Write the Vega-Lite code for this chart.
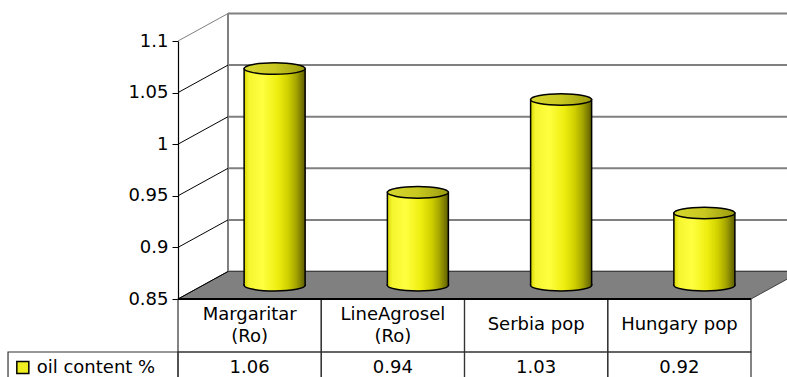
{
  "$schema": "https://vega.github.io/schema/vega-lite/v6.json",
  "width": 573,
  "height": 258,
  "autosize": {"type": "none"},
  "padding": {"left": 178, "top": 41, "right": 36, "bottom": 78},
  "background": "#ffffff",
  "config": {
    "view": {"stroke": null},
    "scale": {"bandPaddingInner": 0, "bandPaddingOuter": 0},
    "font": "DejaVu Sans"
  },
  "datasets": {
    "oil": [
      {"cat": "Margaritar (Ro)", "value": 1.06},
      {"cat": "LineAgrosel (Ro)", "value": 0.94},
      {"cat": "Serbia pop", "value": 1.03},
      {"cat": "Hungary pop", "value": 0.92}
    ],
    "ticks": [{"t": 0.85}, {"t": 0.9}, {"t": 0.95}, {"t": 1}, {"t": 1.05}, {"t": 1.1}],
    "legend": [{"series": "oil content %"}]
  },
  "layer": [
    {
      "data": {"name": "ticks"},
      "mark": {"type": "rule", "color": "#808080", "strokeWidth": 2, "xOffset": 50, "x2Offset": 50, "yOffset": -27.5},
      "encoding": {
        "y": {"field": "t", "type": "quantitative", "scale": {"domain": [0.85, 1.1], "zero": false, "nice": false},
          "axis": {"values": [0.85, 0.9, 0.95, 1, 1.05, 1.1], "format": "~g", "title": null, "grid": false, "domainColor": "#000000", "domainWidth": 1.2, "tickColor": "#000000", "tickSize": 6, "labelFont": "DejaVu Sans", "labelFontSize": 18, "labelColor": "#000000", "labelPadding": 4}},
        "x": {"datum": "Margaritar (Ro)", "bandPosition": 0, "scale": {"domain": ["Margaritar (Ro)", "LineAgrosel (Ro)", "Serbia pop", "Hungary pop"]},
          "axis": {"orient": "bottom", "title": null, "domain": false, "ticks": false, "labelAngle": 0, "labelPadding": {"condition": {"test": "indexof(datum.label, ' (') > 0", "value": 15}, "value": 25}, "labelBaseline": "middle", "labelFont": "DejaVu Sans", "labelFontSize": 18, "labelColor": "#000000", "labelLineHeight": 22, "labelOverlap": false,
            "labelExpr": "indexof(datum.label, ' (') > 0 ? [slice(datum.label, 0, indexof(datum.label, ' (')), slice(datum.label, indexof(datum.label, ' (') + 1)] : datum.label"}},
        "x2": {"datum": "Hungary pop", "bandPosition": 1}
      }
    },
    {
      "data": {"name": "legend"},
      "mark": {"type": "rule", "color": "#808080", "strokeWidth": 2, "xOffset": 50, "yOffset": -27.5, "y2Offset": -27.5},
      "encoding": {
        "x": {"datum": "Margaritar (Ro)", "bandPosition": 0, "scale": {"domain": ["Margaritar (Ro)", "LineAgrosel (Ro)", "Serbia pop", "Hungary pop"]},
          "axis": {"orient": "bottom", "title": null, "domain": false, "ticks": false, "labelAngle": 0, "labelPadding": {"condition": {"test": "indexof(datum.label, ' (') > 0", "value": 15}, "value": 25}, "labelBaseline": "middle", "labelFont": "DejaVu Sans", "labelFontSize": 18, "labelColor": "#000000", "labelLineHeight": 22, "labelOverlap": false,
            "labelExpr": "indexof(datum.label, ' (') > 0 ? [slice(datum.label, 0, indexof(datum.label, ' (')), slice(datum.label, indexof(datum.label, ' (') + 1)] : datum.label"}},
        "y": {"datum": 1.1, "type": "quantitative",
          "axis": {"values": [0.85, 0.9, 0.95, 1, 1.05, 1.1], "format": "~g", "title": null, "grid": false, "domainColor": "#000000", "domainWidth": 1.2, "tickColor": "#000000", "tickSize": 6, "labelFont": "DejaVu Sans", "labelFontSize": 18, "labelColor": "#000000", "labelPadding": 4}},
        "y2": {"datum": 0.85}
      }
    },
    {
      "data": {"name": "legend"},
      "mark": {"type": "point", "shape": "M-286.5,0L286.5,0L336.5,-27.5L-236.5,-27.5Z", "size": 4, "filled": true, "fill": "#808080", "stroke": "#404040", "strokeWidth": 1, "opacity": 1},
      "encoding": {
        "x": {"datum": "LineAgrosel (Ro)", "bandPosition": 1, "scale": {"domain": ["Margaritar (Ro)", "LineAgrosel (Ro)", "Serbia pop", "Hungary pop"]},
          "axis": {"orient": "bottom", "title": null, "domain": false, "ticks": false, "labelAngle": 0, "labelPadding": {"condition": {"test": "indexof(datum.label, ' (') > 0", "value": 15}, "value": 25}, "labelBaseline": "middle", "labelFont": "DejaVu Sans", "labelFontSize": 18, "labelColor": "#000000", "labelLineHeight": 22, "labelOverlap": false,
            "labelExpr": "indexof(datum.label, ' (') > 0 ? [slice(datum.label, 0, indexof(datum.label, ' (')), slice(datum.label, indexof(datum.label, ' (') + 1)] : datum.label"}},
        "y": {"datum": 0.85, "type": "quantitative",
          "axis": {"values": [0.85, 0.9, 0.95, 1, 1.05, 1.1], "format": "~g", "title": null, "grid": false, "domainColor": "#000000", "domainWidth": 1.2, "tickColor": "#000000", "tickSize": 6, "labelFont": "DejaVu Sans", "labelFontSize": 18, "labelColor": "#000000", "labelPadding": 4}}
      }
    },
    {
      "data": {"name": "ticks"},
      "mark": {"type": "point", "shape": "M0,0L50,-27.5", "size": 4, "filled": false, "strokeWidth": 1, "opacity": 1},
      "encoding": {
        "x": {"datum": "Margaritar (Ro)", "bandPosition": 0, "scale": {"domain": ["Margaritar (Ro)", "LineAgrosel (Ro)", "Serbia pop", "Hungary pop"]},
          "axis": {"orient": "bottom", "title": null, "domain": false, "ticks": false, "labelAngle": 0, "labelPadding": {"condition": {"test": "indexof(datum.label, ' (') > 0", "value": 15}, "value": 25}, "labelBaseline": "middle", "labelFont": "DejaVu Sans", "labelFontSize": 18, "labelColor": "#000000", "labelLineHeight": 22, "labelOverlap": false,
            "labelExpr": "indexof(datum.label, ' (') > 0 ? [slice(datum.label, 0, indexof(datum.label, ' (')), slice(datum.label, indexof(datum.label, ' (') + 1)] : datum.label"}},
        "y": {"field": "t", "type": "quantitative",
          "axis": {"values": [0.85, 0.9, 0.95, 1, 1.05, 1.1], "format": "~g", "title": null, "grid": false, "domainColor": "#000000", "domainWidth": 1.2, "tickColor": "#000000", "tickSize": 6, "labelFont": "DejaVu Sans", "labelFontSize": 18, "labelColor": "#000000", "labelPadding": 4}},
        "stroke": {"condition": {"test": "datum.t > 1.09", "value": "#808080"}, "value": "#000000"}
      }
    },
    {
      "data": {"name": "oil"},
      "mark": {
        "type": "bar", "width": 61, "xOffset": 25, "yOffset": -13.75, "y2Offset": -13.75,
        "fill": {"gradient": "linear", "x1": 0, "x2": 1, "y1": 0, "y2": 0, "stops": [
          {"offset": 0, "color": "#D8D800"}, {"offset": 0.08, "color": "#F5F530"}, {"offset": 0.3, "color": "#FFFF40"},
          {"offset": 0.55, "color": "#EEEE10"}, {"offset": 0.72, "color": "#D0D000"}, {"offset": 0.85, "color": "#A6A600"},
          {"offset": 0.94, "color": "#7A7A00"}, {"offset": 1, "color": "#5C5C00"}]},
        "stroke": "#000000", "strokeWidth": 1.5
      },
      "encoding": {
        "x": {"field": "cat", "type": "nominal", "scale": {"domain": ["Margaritar (Ro)", "LineAgrosel (Ro)", "Serbia pop", "Hungary pop"]},
          "axis": {"orient": "bottom", "title": null, "domain": false, "ticks": false, "labelAngle": 0, "labelPadding": {"condition": {"test": "indexof(datum.label, ' (') > 0", "value": 15}, "value": 25}, "labelBaseline": "middle", "labelFont": "DejaVu Sans", "labelFontSize": 18, "labelColor": "#000000", "labelLineHeight": 22, "labelOverlap": false,
            "labelExpr": "indexof(datum.label, ' (') > 0 ? [slice(datum.label, 0, indexof(datum.label, ' (')), slice(datum.label, indexof(datum.label, ' (') + 1)] : datum.label"}},
        "y": {"field": "value", "type": "quantitative",
          "axis": {"values": [0.85, 0.9, 0.95, 1, 1.05, 1.1], "format": "~g", "title": null, "grid": false, "domainColor": "#000000", "domainWidth": 1.2, "tickColor": "#000000", "tickSize": 6, "labelFont": "DejaVu Sans", "labelFontSize": 18, "labelColor": "#000000", "labelPadding": 4}},
        "y2": {"datum": 0.85}
      }
    },
    {
      "data": {"name": "oil"},
      "mark": {
        "type": "point", "shape": "M-1,-0.06L-1,0A1,0.19,0,0,0,1,0L1,-0.06", "size": 3721, "filled": true, "opacity": 1,
        "xOffset": 25, "yOffset": -13.75,
        "fill": {"gradient": "linear", "x1": 0, "x2": 1, "y1": 0, "y2": 0, "stops": [
          {"offset": 0, "color": "#D8D800"}, {"offset": 0.08, "color": "#F5F530"}, {"offset": 0.3, "color": "#FFFF40"},
          {"offset": 0.55, "color": "#EEEE10"}, {"offset": 0.72, "color": "#D0D000"}, {"offset": 0.85, "color": "#A6A600"},
          {"offset": 0.94, "color": "#7A7A00"}, {"offset": 1, "color": "#5C5C00"}]},
        "stroke": "#000000", "strokeWidth": 1.5
      },
      "encoding": {
        "x": {"field": "cat", "type": "nominal", "scale": {"domain": ["Margaritar (Ro)", "LineAgrosel (Ro)", "Serbia pop", "Hungary pop"]},
          "axis": {"orient": "bottom", "title": null, "domain": false, "ticks": false, "labelAngle": 0, "labelPadding": {"condition": {"test": "indexof(datum.label, ' (') > 0", "value": 15}, "value": 25}, "labelBaseline": "middle", "labelFont": "DejaVu Sans", "labelFontSize": 18, "labelColor": "#000000", "labelLineHeight": 22, "labelOverlap": false,
            "labelExpr": "indexof(datum.label, ' (') > 0 ? [slice(datum.label, 0, indexof(datum.label, ' (')), slice(datum.label, indexof(datum.label, ' (') + 1)] : datum.label"}},
        "y": {"datum": 0.85, "type": "quantitative",
          "axis": {"values": [0.85, 0.9, 0.95, 1, 1.05, 1.1], "format": "~g", "title": null, "grid": false, "domainColor": "#000000", "domainWidth": 1.2, "tickColor": "#000000", "tickSize": 6, "labelFont": "DejaVu Sans", "labelFontSize": 18, "labelColor": "#000000", "labelPadding": 4}}
      }
    },
    {
      "data": {"name": "oil"},
      "mark": {
        "type": "point", "shape": "M-1,0A1,0.19,0,1,0,1,0A1,0.19,0,1,0,-1,0Z", "size": 3721, "filled": true, "opacity": 1,
        "xOffset": 25, "yOffset": -13.75,
        "fill": {"gradient": "linear", "x1": 0, "x2": 1, "y1": 0, "y2": 0, "stops": [
          {"offset": 0, "color": "#D6D630"}, {"offset": 0.5, "color": "#C8C820"}, {"offset": 1, "color": "#9A9A10"}]},
        "stroke": "#000000", "strokeWidth": 1.5
      },
      "encoding": {
        "x": {"field": "cat", "type": "nominal", "scale": {"domain": ["Margaritar (Ro)", "LineAgrosel (Ro)", "Serbia pop", "Hungary pop"]},
          "axis": {"orient": "bottom", "title": null, "domain": false, "ticks": false, "labelAngle": 0, "labelPadding": {"condition": {"test": "indexof(datum.label, ' (') > 0", "value": 15}, "value": 25}, "labelBaseline": "middle", "labelFont": "DejaVu Sans", "labelFontSize": 18, "labelColor": "#000000", "labelLineHeight": 22, "labelOverlap": false,
            "labelExpr": "indexof(datum.label, ' (') > 0 ? [slice(datum.label, 0, indexof(datum.label, ' (')), slice(datum.label, indexof(datum.label, ' (') + 1)] : datum.label"}},
        "y": {"field": "value", "type": "quantitative",
          "axis": {"values": [0.85, 0.9, 0.95, 1, 1.05, 1.1], "format": "~g", "title": null, "grid": false, "domainColor": "#000000", "domainWidth": 1.2, "tickColor": "#000000", "tickSize": 6, "labelFont": "DejaVu Sans", "labelFontSize": 18, "labelColor": "#000000", "labelPadding": 4}}
      }
    },
    {
      "data": {"name": "oil"},
      "mark": {"type": "rect", "fillOpacity": 0, "stroke": "#333333", "strokeWidth": 1.2, "y2Offset": 53},
      "encoding": {
        "x": {"field": "cat", "type": "nominal", "scale": {"domain": ["Margaritar (Ro)", "LineAgrosel (Ro)", "Serbia pop", "Hungary pop"]},
          "axis": {"orient": "bottom", "title": null, "domain": false, "ticks": false, "labelAngle": 0, "labelPadding": {"condition": {"test": "indexof(datum.label, ' (') > 0", "value": 15}, "value": 25}, "labelBaseline": "middle", "labelFont": "DejaVu Sans", "labelFontSize": 18, "labelColor": "#000000", "labelLineHeight": 22, "labelOverlap": false,
            "labelExpr": "indexof(datum.label, ' (') > 0 ? [slice(datum.label, 0, indexof(datum.label, ' (')), slice(datum.label, indexof(datum.label, ' (') + 1)] : datum.label"}},
        "y": {"datum": 0.85, "type": "quantitative",
          "axis": {"values": [0.85, 0.9, 0.95, 1, 1.05, 1.1], "format": "~g", "title": null, "grid": false, "domainColor": "#000000", "domainWidth": 1.2, "tickColor": "#000000", "tickSize": 6, "labelFont": "DejaVu Sans", "labelFontSize": 18, "labelColor": "#000000", "labelPadding": 4}},
        "y2": {"datum": 0.85}
      }
    },
    {
      "data": {"name": "oil"},
      "mark": {"type": "rect", "fillOpacity": 0, "stroke": "#333333", "strokeWidth": 1.2, "yOffset": 53, "y2Offset": 85},
      "encoding": {
        "x": {"field": "cat", "type": "nominal", "scale": {"domain": ["Margaritar (Ro)", "LineAgrosel (Ro)", "Serbia pop", "Hungary pop"]},
          "axis": {"orient": "bottom", "title": null, "domain": false, "ticks": false, "labelAngle": 0, "labelPadding": {"condition": {"test": "indexof(datum.label, ' (') > 0", "value": 15}, "value": 25}, "labelBaseline": "middle", "labelFont": "DejaVu Sans", "labelFontSize": 18, "labelColor": "#000000", "labelLineHeight": 22, "labelOverlap": false,
            "labelExpr": "indexof(datum.label, ' (') > 0 ? [slice(datum.label, 0, indexof(datum.label, ' (')), slice(datum.label, indexof(datum.label, ' (') + 1)] : datum.label"}},
        "y": {"datum": 0.85, "type": "quantitative",
          "axis": {"values": [0.85, 0.9, 0.95, 1, 1.05, 1.1], "format": "~g", "title": null, "grid": false, "domainColor": "#000000", "domainWidth": 1.2, "tickColor": "#000000", "tickSize": 6, "labelFont": "DejaVu Sans", "labelFontSize": 18, "labelColor": "#000000", "labelPadding": 4}},
        "y2": {"datum": 0.85}
      }
    },
    {
      "data": {"name": "legend"},
      "mark": {"type": "rect", "fillOpacity": 0, "stroke": "#333333", "strokeWidth": 1.2, "width": 170, "xOffset": -156.6, "yOffset": 53, "y2Offset": 85},
      "encoding": {
        "x": {"datum": "Margaritar (Ro)", "scale": {"domain": ["Margaritar (Ro)", "LineAgrosel (Ro)", "Serbia pop", "Hungary pop"]},
          "axis": {"orient": "bottom", "title": null, "domain": false, "ticks": false, "labelAngle": 0, "labelPadding": {"condition": {"test": "indexof(datum.label, ' (') > 0", "value": 15}, "value": 25}, "labelBaseline": "middle", "labelFont": "DejaVu Sans", "labelFontSize": 18, "labelColor": "#000000", "labelLineHeight": 22, "labelOverlap": false,
            "labelExpr": "indexof(datum.label, ' (') > 0 ? [slice(datum.label, 0, indexof(datum.label, ' (')), slice(datum.label, indexof(datum.label, ' (') + 1)] : datum.label"}},
        "y": {"datum": 0.85, "type": "quantitative",
          "axis": {"values": [0.85, 0.9, 0.95, 1, 1.05, 1.1], "format": "~g", "title": null, "grid": false, "domainColor": "#000000", "domainWidth": 1.2, "tickColor": "#000000", "tickSize": 6, "labelFont": "DejaVu Sans", "labelFontSize": 18, "labelColor": "#000000", "labelPadding": 4}},
        "y2": {"datum": 0.85}
      }
    },
    {
      "data": {"name": "legend"},
      "mark": {"type": "rule", "color": "#000000", "strokeWidth": 2},
      "encoding": {
        "x": {"datum": "Margaritar (Ro)", "bandPosition": 0, "scale": {"domain": ["Margaritar (Ro)", "LineAgrosel (Ro)", "Serbia pop", "Hungary pop"]},
          "axis": {"orient": "bottom", "title": null, "domain": false, "ticks": false, "labelAngle": 0, "labelPadding": {"condition": {"test": "indexof(datum.label, ' (') > 0", "value": 15}, "value": 25}, "labelBaseline": "middle", "labelFont": "DejaVu Sans", "labelFontSize": 18, "labelColor": "#000000", "labelLineHeight": 22, "labelOverlap": false,
            "labelExpr": "indexof(datum.label, ' (') > 0 ? [slice(datum.label, 0, indexof(datum.label, ' (')), slice(datum.label, indexof(datum.label, ' (') + 1)] : datum.label"}},
        "x2": {"datum": "Hungary pop", "bandPosition": 1},
        "y": {"datum": 0.85, "type": "quantitative",
          "axis": {"values": [0.85, 0.9, 0.95, 1, 1.05, 1.1], "format": "~g", "title": null, "grid": false, "domainColor": "#000000", "domainWidth": 1.2, "tickColor": "#000000", "tickSize": 6, "labelFont": "DejaVu Sans", "labelFontSize": 18, "labelColor": "#000000", "labelPadding": 4}}
      }
    },
    {
      "data": {"name": "oil"},
      "mark": {"type": "text", "font": "DejaVu Sans", "fontSize": 18, "color": "#000000", "baseline": "middle", "align": "center", "yOffset": 69.3},
      "encoding": {
        "x": {"field": "cat", "type": "nominal", "scale": {"domain": ["Margaritar (Ro)", "LineAgrosel (Ro)", "Serbia pop", "Hungary pop"]},
          "axis": {"orient": "bottom", "title": null, "domain": false, "ticks": false, "labelAngle": 0, "labelPadding": {"condition": {"test": "indexof(datum.label, ' (') > 0", "value": 15}, "value": 25}, "labelBaseline": "middle", "labelFont": "DejaVu Sans", "labelFontSize": 18, "labelColor": "#000000", "labelLineHeight": 22, "labelOverlap": false,
            "labelExpr": "indexof(datum.label, ' (') > 0 ? [slice(datum.label, 0, indexof(datum.label, ' (')), slice(datum.label, indexof(datum.label, ' (') + 1)] : datum.label"}},
        "y": {"datum": 0.85, "type": "quantitative",
          "axis": {"values": [0.85, 0.9, 0.95, 1, 1.05, 1.1], "format": "~g", "title": null, "grid": false, "domainColor": "#000000", "domainWidth": 1.2, "tickColor": "#000000", "tickSize": 6, "labelFont": "DejaVu Sans", "labelFontSize": 18, "labelColor": "#000000", "labelPadding": 4}},
        "text": {"field": "value", "type": "quantitative", "format": ".2f"}
      }
    },
    {
      "data": {"name": "legend"},
      "mark": {"type": "point", "shape": "square", "size": 144, "filled": true, "fill": "#EEEE20", "stroke": "#000000", "strokeWidth": 1.5, "opacity": 1, "xOffset": -226.8, "yOffset": 68.5},
      "encoding": {
        "x": {"datum": "Margaritar (Ro)", "scale": {"domain": ["Margaritar (Ro)", "LineAgrosel (Ro)", "Serbia pop", "Hungary pop"]},
          "axis": {"orient": "bottom", "title": null, "domain": false, "ticks": false, "labelAngle": 0, "labelPadding": {"condition": {"test": "indexof(datum.label, ' (') > 0", "value": 15}, "value": 25}, "labelBaseline": "middle", "labelFont": "DejaVu Sans", "labelFontSize": 18, "labelColor": "#000000", "labelLineHeight": 22, "labelOverlap": false,
            "labelExpr": "indexof(datum.label, ' (') > 0 ? [slice(datum.label, 0, indexof(datum.label, ' (')), slice(datum.label, indexof(datum.label, ' (') + 1)] : datum.label"}},
        "y": {"datum": 0.85, "type": "quantitative",
          "axis": {"values": [0.85, 0.9, 0.95, 1, 1.05, 1.1], "format": "~g", "title": null, "grid": false, "domainColor": "#000000", "domainWidth": 1.2, "tickColor": "#000000", "tickSize": 6, "labelFont": "DejaVu Sans", "labelFontSize": 18, "labelColor": "#000000", "labelPadding": 4}}
      }
    },
    {
      "data": {"name": "legend"},
      "mark": {"type": "text", "font": "DejaVu Sans", "fontSize": 18, "color": "#000000", "baseline": "middle", "align": "left", "xOffset": -212.9, "yOffset": 69.3},
      "encoding": {
        "x": {"datum": "Margaritar (Ro)", "scale": {"domain": ["Margaritar (Ro)", "LineAgrosel (Ro)", "Serbia pop", "Hungary pop"]},
          "axis": {"orient": "bottom", "title": null, "domain": false, "ticks": false, "labelAngle": 0, "labelPadding": {"condition": {"test": "indexof(datum.label, ' (') > 0", "value": 15}, "value": 25}, "labelBaseline": "middle", "labelFont": "DejaVu Sans", "labelFontSize": 18, "labelColor": "#000000", "labelLineHeight": 22, "labelOverlap": false,
            "labelExpr": "indexof(datum.label, ' (') > 0 ? [slice(datum.label, 0, indexof(datum.label, ' (')), slice(datum.label, indexof(datum.label, ' (') + 1)] : datum.label"}},
        "y": {"datum": 0.85, "type": "quantitative",
          "axis": {"values": [0.85, 0.9, 0.95, 1, 1.05, 1.1], "format": "~g", "title": null, "grid": false, "domainColor": "#000000", "domainWidth": 1.2, "tickColor": "#000000", "tickSize": 6, "labelFont": "DejaVu Sans", "labelFontSize": 18, "labelColor": "#000000", "labelPadding": 4}},
        "text": {"field": "series", "type": "nominal"}
      }
    }
  ]
}
